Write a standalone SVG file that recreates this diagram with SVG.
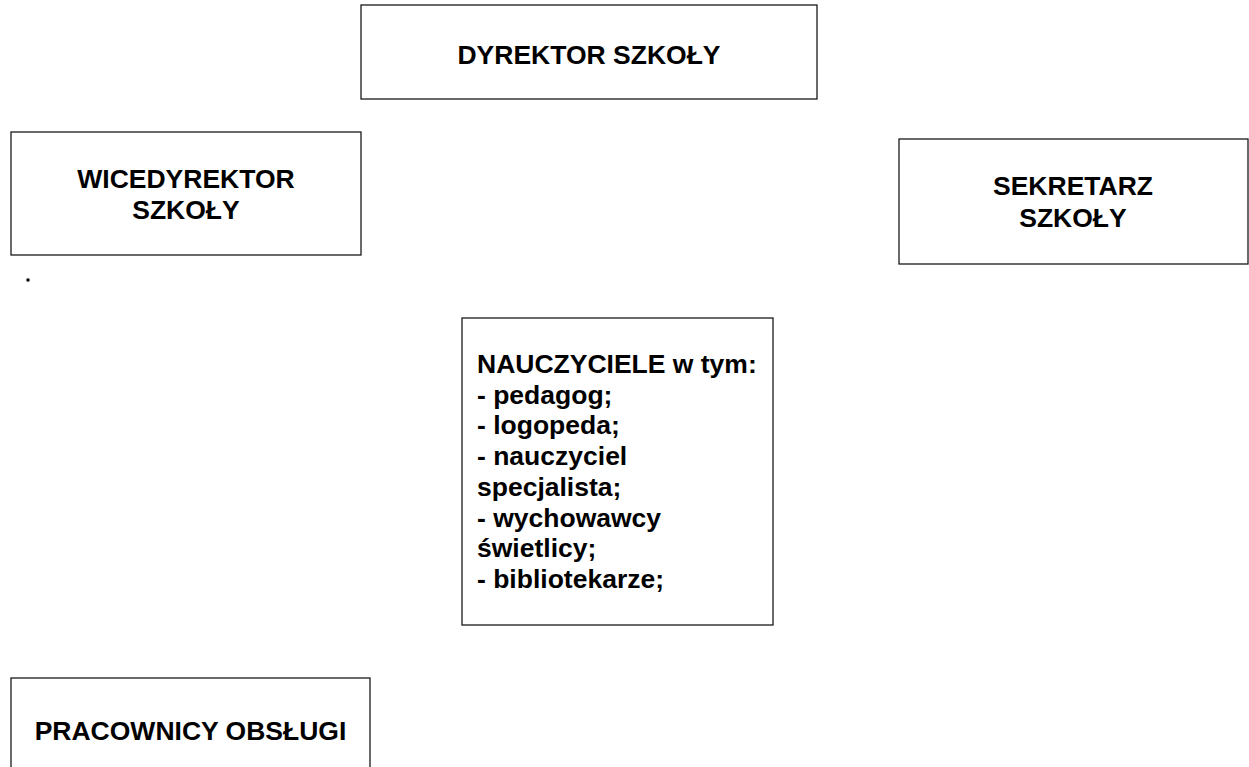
<svg xmlns="http://www.w3.org/2000/svg" width="1249" height="767" viewBox="0 0 1249 767">
<style>
.box{fill:#fff;stroke:#1a1a1a;stroke-width:1.3}
.t{font-family:"Liberation Sans",Arial,sans-serif;font-weight:bold;font-size:26.5px;fill:#000}
.c{text-anchor:middle}
</style>
<rect width="1249" height="767" fill="#fff"/>
<g id="connectors"></g>
<g id="dyrektor">
<rect class="box" x="361" y="5" width="456" height="94"/>
<text class="t c" x="589" y="64">DYREKTOR SZKOŁY</text>
</g>
<g id="wicedyrektor">
<rect class="box" x="11" y="132" width="350" height="123"/>
<text class="t c" x="186" y="188">WICEDYREKTOR</text>
<text class="t c" x="186" y="219">SZKOŁY</text>
</g>
<g id="kropka">
<rect x="26.5" y="278.5" width="3" height="3" fill="#000"/>
</g>
<g id="sekretarz">
<rect class="box" x="899" y="139" width="349" height="125"/>
<text class="t c" x="1073" y="195">SEKRETARZ</text>
<text class="t c" x="1073" y="227">SZKOŁY</text>
</g>
<g id="nauczyciele">
<rect class="box" x="462" y="318" width="311" height="307"/>
<text class="t" x="477" y="373">NAUCZYCIELE w tym:</text>
<text class="t" x="477" y="403.7">- pedagog;</text>
<text class="t" x="477" y="434.4">- logopeda;</text>
<text class="t" x="477" y="465.1">- nauczyciel</text>
<text class="t" x="477" y="495.8">specjalista;</text>
<text class="t" x="477" y="526.5">- wychowawcy</text>
<text class="t" x="477" y="557.2">świetlicy;</text>
<text class="t" x="477" y="588">- bibliotekarze;</text>
</g>
<g id="obsluga">
<rect class="box" x="11" y="678" width="359" height="100"/>
<text class="t c" x="190.5" y="740">PRACOWNICY OBSŁUGI</text>
</g>
</svg>
